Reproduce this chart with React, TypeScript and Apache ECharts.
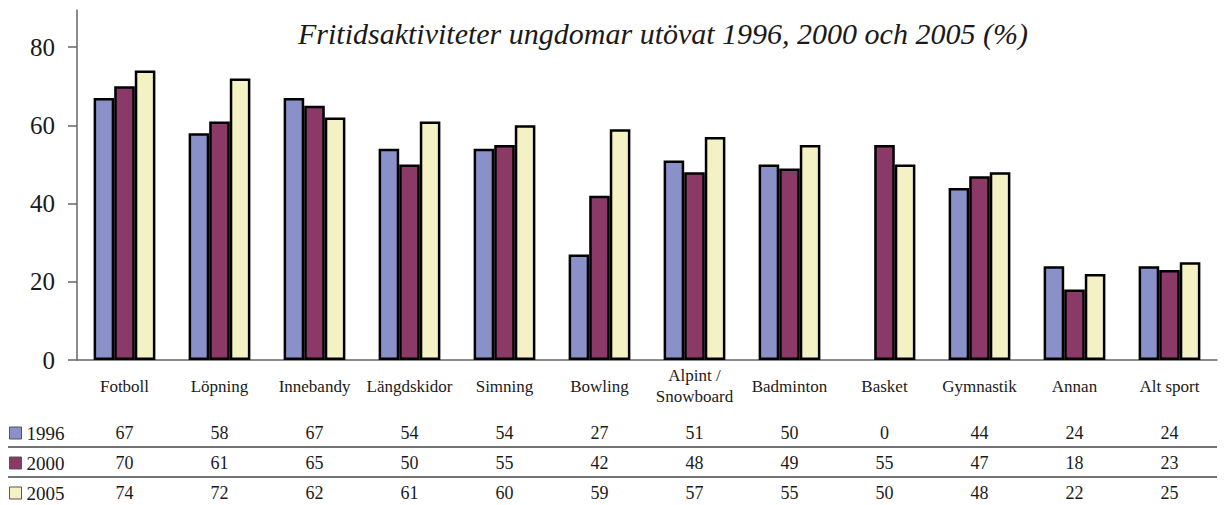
import React, { useEffect, useRef } from "react";
import * as echarts from "echarts";

const categories = [
  "Fotboll", "Löpning", "Innebandy", "Längdskidor", "Simning", "Bowling",
  "Alpint /\nSnowboard", "Badminton", "Basket", "Gymnastik", "Annan", "Alt sport",
];
const years = ["1996", "2000", "2005"];
const values1996 = [67, 58, 67, 54, 54, 27, 51, 50, 0, 44, 24, 24];
const values2000 = [70, 61, 65, 50, 55, 42, 48, 49, 55, 47, 18, 23];
const values2005 = [74, 72, 62, 61, 60, 59, 57, 55, 50, 48, 22, 25];
const yTicks = [0, 20, 40, 60, 80];
const titleText = "Fritidsaktiviteter ungdomar utövat 1996, 2000 och 2005 (%)";

const seriesValues = [values1996, values2000, values2005];
const colors = ["#8a90c8", "#8b3a67", "#f4f2c5"];
const FONT = "Liberation Serif";

export default function App() {
  const ref = useRef<HTMLDivElement>(null);
  useEffect(() => {
    document.body.style.margin = "0";
    if (!ref.current) return;
    const chart = echarts.init(ref.current, null, { renderer: "svg" });
    const rowCenters = [73, 103, 133];
    const tableAxes = seriesValues.map((vals, i) => ({
      type: "category" as const,
      gridIndex: 0,
      position: "bottom" as const,
      data: vals.map((v) => String(v)),
      axisLine: { show: false },
      axisTick: { show: false },
      axisLabel: {
        interval: 0,
        margin: rowCenters[i],
        verticalAlign: "middle",
        fontFamily: FONT,
        fontSize: 18,
        color: "#1a1a1a",
      },
    }));
    chart.setOption({
      animation: false,
      title: {
        text: titleText,
        left: 293,
        top: 13,
        textStyle: {
          fontFamily: FONT,
          fontStyle: "italic",
          fontWeight: "normal",
          fontSize: 30,
          color: "#1a1a1a",
        },
      },
      legend: years.map((y, i) => ({
        data: [y],
        orient: "vertical",
        left: 9,
        top: 422 + i * 30,
        padding: 0,
        itemWidth: 12,
        itemHeight: 12,
        itemGap: 0,
        icon: "rect",
        selectedMode: false,
        itemStyle: { borderColor: "#555", borderWidth: 1 },
        textStyle: { fontFamily: FONT, fontSize: 19, color: "#1a1a1a", lineHeight: 22 },
      })),
      grid: { left: 77, right: 7, top: 10, bottom: 145, containLabel: false },
      xAxis: [
        {
          type: "category",
          data: categories,
          axisLine: { show: true, lineStyle: { color: "#666", width: 1.5 } },
          axisTick: { show: false },
          axisLabel: {
            interval: 0,
            margin: 26,
            verticalAlign: "middle",
            fontFamily: FONT,
            fontSize: 17,
            lineHeight: 21,
            color: "#1a1a1a",
          },
        },
        ...tableAxes,
      ],
      yAxis: {
        type: "value",
        min: 0,
        max: 89.5,
        interval: 20,
        splitLine: { show: false },
        axisLine: { show: true, lineStyle: { color: "#666", width: 1.5 } },
        axisTick: {
          show: true,
          length: 9,
          customValues: yTicks,
          lineStyle: { color: "#666", width: 1.5 },
        },
        axisLabel: {
          customValues: yTicks,
          margin: 22,
          fontFamily: FONT,
          fontSize: 25,
          color: "#1a1a1a",
        },
      },
      graphic: [
        { type: "line", shape: { x1: 8, y1: 447, x2: 1217, y2: 447 }, style: { stroke: "#444", lineWidth: 1.5 } },
        { type: "line", shape: { x1: 8, y1: 477, x2: 1217, y2: 477 }, style: { stroke: "#444", lineWidth: 1.5 } },
      ],
      series: seriesValues.map((vals, i) => ({
        name: years[i],
        type: "bar",
        xAxisIndex: 0,
        barGap: "0%",
        barCategoryGap: "35%",
        itemStyle: { color: colors[i], borderColor: "#000", borderWidth: 2.5 },
        data: vals.map((v) => (v === 0 ? { value: v, itemStyle: { borderWidth: 0 } } : v)),
      })),
    });
    return () => chart.dispose();
  }, []);
  return <div ref={ref} style={{ width: 1224, height: 505 }} />;
}
